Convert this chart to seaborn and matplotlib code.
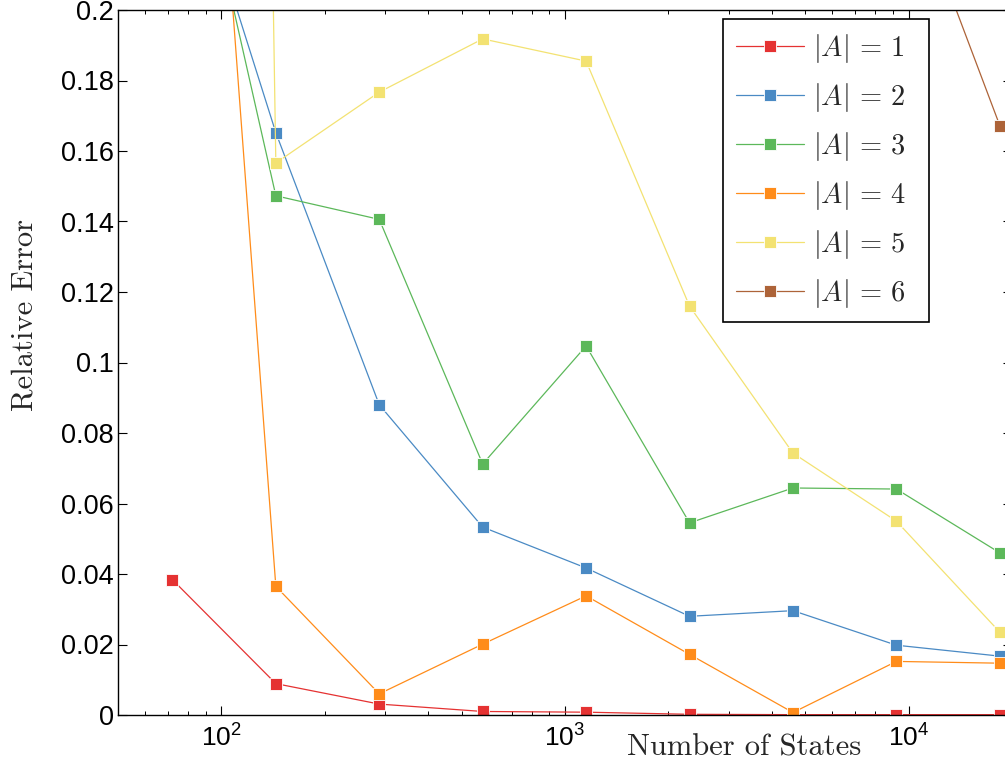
import numpy as np
import pandas as pd
import matplotlib
matplotlib.use("Agg")
import matplotlib.pyplot as plt
import matplotlib.ticker as mticker
import seaborn as sns

# Number of states at each refinement level (doubling)
states = [72, 144, 288, 576, 1152, 2304, 4608, 9216, 18432]

# Relative error for each action-set size |A|
err_a1 = [0.0384, 0.0089, 0.0031, 0.0010, 0.0008, 0.0002, 0.0001, 0.0001, 0.0001]
err_a2 = [0.258, 0.1652, 0.0880, 0.0533, 0.0417, 0.0280, 0.0296, 0.0198, 0.0167]
err_a3 = [0.277, 0.1473, 0.1406, 0.0712, 0.1047, 0.0545, 0.0644, 0.0641, 0.0460]
err_a4 = [0.43, 0.0365, 0.0060, 0.0201, 0.0338, 0.0172, 0.0007, 0.0152, 0.0147]
err_a5 = [2.0, 0.1566, 0.1767, 0.1918, 0.1855, 0.1160, 0.0743, 0.0550, 0.0235]
err_a6 = [1.6, 1.3, 1.05, 0.85, 0.62, 0.45, 0.33, 0.245, 0.1672]

series_labels = [r"$|A|\,=\,1$", r"$|A|\,=\,2$", r"$|A|\,=\,3$",
                 r"$|A|\,=\,4$", r"$|A|\,=\,5$", r"$|A|\,=\,6$"]
series_colors = ["#e53232", "#4a8ac4", "#5cb85a", "#ff8c1a", "#f3e272", "#ad6338"]

y_ticks = [0, 0.02, 0.04, 0.06, 0.08, 0.1, 0.12, 0.14, 0.16, 0.18, 0.2]

sns.set_theme(style="ticks")
plt.rcParams["font.family"] = ["Liberation Sans", "DejaVu Sans"]
plt.rcParams["mathtext.fontset"] = "cm"

frames = []
for label, errs in zip(series_labels,
                       [err_a1, err_a2, err_a3, err_a4, err_a5, err_a6]):
    frames.append(pd.DataFrame({"states": states, "error": errs, "A": label}))
df = pd.concat(frames, ignore_index=True)

W, H = 1005, 764
fig = plt.figure(figsize=(W / 100, H / 100), dpi=100)
ax_left, ax_right, ax_top, ax_bottom = 118, 1012, 10, 715
ax = fig.add_axes([ax_left / W, (H - ax_bottom) / H,
                   (ax_right - ax_left) / W, (ax_bottom - ax_top) / H])

sns.lineplot(data=df, x="states", y="error", hue="A",
             hue_order=series_labels, palette=series_colors,
             marker="s", markersize=8.2, markeredgewidth=0.6,
             linewidth=0.9, errorbar=None, sort=False, ax=ax)

ax.set_xscale("log")
ax.set_xlim(50, 20000)
ax.set_ylim(0, 0.2)
ax.set_yticks(y_ticks)
ax.yaxis.set_major_formatter(mticker.FuncFormatter(lambda v, p: f"{v:g}"))
ax.xaxis.set_major_locator(mticker.LogLocator(base=10, numticks=10))
ax.xaxis.set_minor_locator(mticker.LogLocator(base=10, subs=np.arange(2, 10), numticks=20))
ax.xaxis.set_minor_formatter(mticker.NullFormatter())
ax.set_xlabel("")
ax.set_ylabel("")

ax.tick_params(which="both", direction="in", top=True, right=True,
               colors="black")
ax.tick_params(axis="y", labelsize=19.5, pad=3)
ax.tick_params(axis="x", labelsize=19, pad=7)
ax.tick_params(which="major", length=6.5, width=0.8)
ax.tick_params(which="minor", length=3.2, width=0.7)
for sp in ax.spines.values():
    sp.set_color("black")
    sp.set_linewidth(1.0)

# Axis titles in Computer Modern
fig.text(744 / W, (H - 755) / H, "Number of States", family="cmr10",
         fontsize=22, ha="center", va="baseline")
fig.text(33 / W, (H - 315) / H, "Relative Error", family="cmr10",
         fontsize=22, ha="center", va="baseline", rotation=90,
         rotation_mode="anchor")

handles, labels = ax.get_legend_handles_labels()
leg = ax.legend(handles, labels, loc="upper left",
                bbox_to_anchor=(723 / W, 1 - 321 / H, 206 / W, 302 / H),
                bbox_transform=fig.transFigure, borderaxespad=0,
                mode="expand", fontsize=20.5, frameon=True, fancybox=False,
                edgecolor="black", framealpha=1, handlelength=2.4,
                handletextpad=0.32, labelspacing=0.56, borderpad=0.45)
leg.get_frame().set_linewidth(1.2)

fig.savefig("out.png", dpi=100)
